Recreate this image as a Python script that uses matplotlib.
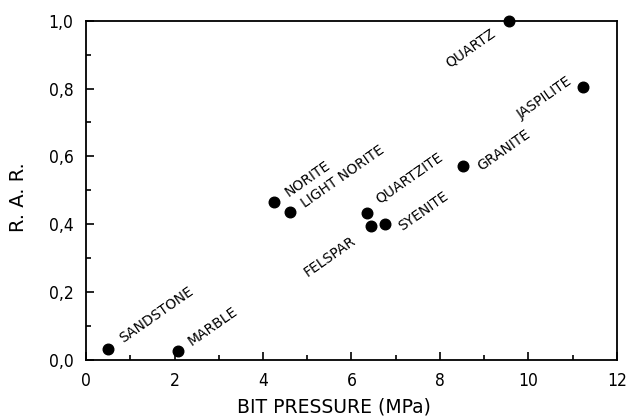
import matplotlib
matplotlib.use("Agg")
import matplotlib.pyplot as plt
from matplotlib.ticker import MultipleLocator, FuncFormatter

rocks = ["SANDSTONE", "MARBLE", "NORITE", "LIGHT NORITE", "QUARTZITE",
         "FELSPAR", "SYENITE", "GRANITE", "QUARTZ", "JASPILITE"]
bit_pressure = [0.49, 2.07, 4.25, 4.60, 6.35, 6.43, 6.75, 8.52, 9.56, 11.24]
rar = [0.032, 0.027, 0.467, 0.435, 0.434, 0.396, 0.400, 0.572, 0.999, 0.805]

# label placement (pixels offset, alignment)
offsets = [(13, 9), (12, 8), (12, 8), (13, 8), (10, 12),
           (-16, -14), (15, -3), (16, -2), (-15, -11), (-13, 7)]
aligns = ["left", "left", "left", "left", "left",
          "right", "left", "left", "right", "right"]

plt.rcParams['font.family'] = ['DejaVu Sans']

fig = plt.figure(figsize=(6.26, 4.20), dpi=100)
ax = fig.add_axes([0.1374, 0.1429, 0.8482, 0.8078])

ax.scatter(bit_pressure, rar, s=58, color="black", zorder=3, clip_on=False)

for name, x, y, off, ha in zip(rocks, bit_pressure, rar, offsets, aligns):
    ax.annotate(name, (x, y), xytext=off, textcoords="offset pixels",
                rotation=35, rotation_mode="anchor", ha=ha, va="center",
                fontsize=10, color="black")

ax.set_xlim(0, 12)
ax.set_ylim(0, 1.0)
ax.xaxis.set_major_locator(MultipleLocator(2))
ax.xaxis.set_minor_locator(MultipleLocator(1))
ax.yaxis.set_major_locator(MultipleLocator(0.2))
ax.yaxis.set_minor_locator(MultipleLocator(0.1))
ax.yaxis.set_major_formatter(FuncFormatter(lambda v, p: f"{v:.1f}".replace(".", ",")))

ax.tick_params(which="major", direction="in", length=6, width=1.2,
               labelsize=12.5, pad=9)
ax.tick_params(which="minor", direction="in", length=3.5, width=1.2)
ax.tick_params(top=False, right=False)
for lbl in ax.get_xticklabels() + ax.get_yticklabels():
    lbl.set_fontstretch("condensed")

for s in ax.spines.values():
    s.set_linewidth(1.3)

ax.set_xlabel("BIT PRESSURE (MPa)", fontsize=13.5, va="center")
ax.set_ylabel("R. A. R.", fontsize=14, va="center")
ax.xaxis.set_label_coords(0.467, -0.139)
ax.yaxis.set_label_coords(-0.128, 0.48)

fig.savefig("out.png", dpi=100)
